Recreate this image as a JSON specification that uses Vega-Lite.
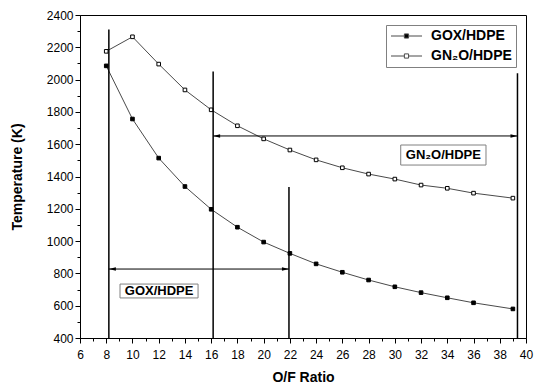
{
  "$schema": "https://vega.github.io/schema/vega-lite/v6.json",
  "width": 446,
  "height": 323,
  "autosize": {"type": "none"},
  "padding": {"left": 80, "top": 15, "right": 16, "bottom": 48},
  "background": "white",
  "config": {
    "font": "Liberation Sans",
    "view": {"stroke": "black", "strokeWidth": 1},
    "axis": {"grid": false, "domainColor": "black", "tickColor": "black", "labelColor": "black", "titleColor": "black", "labelFont": "Liberation Sans", "titleFont": "Liberation Sans", "labelFontSize": 12, "titleFontSize": 14, "titleFontWeight": "bold", "labelOverlap": false, "labelFlush": false}
  },
  "datasets": {
    "series": [
      {"of": 8, "temp": 2085, "series": "GOX/HDPE"},
      {"of": 10, "temp": 1756, "series": "GOX/HDPE"},
      {"of": 12, "temp": 1514, "series": "GOX/HDPE"},
      {"of": 14, "temp": 1338, "series": "GOX/HDPE"},
      {"of": 16, "temp": 1197, "series": "GOX/HDPE"},
      {"of": 18, "temp": 1086, "series": "GOX/HDPE"},
      {"of": 20, "temp": 994, "series": "GOX/HDPE"},
      {"of": 22, "temp": 924, "series": "GOX/HDPE"},
      {"of": 24, "temp": 859, "series": "GOX/HDPE"},
      {"of": 26, "temp": 807, "series": "GOX/HDPE"},
      {"of": 28, "temp": 759, "series": "GOX/HDPE"},
      {"of": 30, "temp": 717, "series": "GOX/HDPE"},
      {"of": 32, "temp": 681, "series": "GOX/HDPE"},
      {"of": 34, "temp": 649, "series": "GOX/HDPE"},
      {"of": 36, "temp": 618, "series": "GOX/HDPE"},
      {"of": 39, "temp": 580, "series": "GOX/HDPE"},
      {"of": 8, "temp": 2175, "series": "GN₂O/HDPE"},
      {"of": 10, "temp": 2265, "series": "GN₂O/HDPE"},
      {"of": 12, "temp": 2096, "series": "GN₂O/HDPE"},
      {"of": 14, "temp": 1936, "series": "GN₂O/HDPE"},
      {"of": 16, "temp": 1813, "series": "GN₂O/HDPE"},
      {"of": 18, "temp": 1714, "series": "GN₂O/HDPE"},
      {"of": 20, "temp": 1633, "series": "GN₂O/HDPE"},
      {"of": 22, "temp": 1564, "series": "GN₂O/HDPE"},
      {"of": 24, "temp": 1503, "series": "GN₂O/HDPE"},
      {"of": 26, "temp": 1454, "series": "GN₂O/HDPE"},
      {"of": 28, "temp": 1415, "series": "GN₂O/HDPE"},
      {"of": 30, "temp": 1384, "series": "GN₂O/HDPE"},
      {"of": 32, "temp": 1347, "series": "GN₂O/HDPE"},
      {"of": 34, "temp": 1327, "series": "GN₂O/HDPE"},
      {"of": 36, "temp": 1297, "series": "GN₂O/HDPE"},
      {"of": 39, "temp": 1266, "series": "GN₂O/HDPE"}
    ],
    "vlines": [
      {"x": 8.2, "y1": 400, "y2": 2310},
      {"x": 16.15, "y1": 400, "y2": 2050},
      {"x": 21.93, "y1": 400, "y2": 1335},
      {"x": 39.35, "y1": 400, "y2": 2040}
    ],
    "hlines": [
      {"x1": 8.2, "x2": 21.93, "y": 827},
      {"x1": 16.15, "x2": 39.35, "y": 1651}
    ],
    "heads": [
      {"x": 8.2, "y": 827, "dir": "left"},
      {"x": 21.93, "y": 827, "dir": "right"},
      {"x": 16.15, "y": 1651, "dir": "left"},
      {"x": 39.35, "y": 1651, "dir": "right"}
    ],
    "boxes": [
      {"x1": 9.05, "x2": 15.0, "y1": 648, "y2": 734, "xc": 12.03, "yc": 691, "label": "GOX/HDPE"},
      {"x1": 30.45, "x2": 36.95, "y1": 1471, "y2": 1595, "xc": 33.7, "yc": 1533, "label": "GN₂O/HDPE"}
    ]
  },
  "layer": [
    {
      "data": {"name": "series"},
      "mark": {"type": "line", "strokeWidth": 1},
      "encoding": {
        "x": {"field": "of", "type": "quantitative", "scale": {"domain": [6, 40], "nice": false, "zero": false},
          "axis": {"title": "O/F Ratio", "values": [6,7,8,9,10,11,12,13,14,15,16,17,18,19,20,21,22,23,24,25,26,27,28,29,30,31,32,33,34,35,36,37,38,39,40],
            "tickCount": 200, "format": "d",
            "labelExpr": "datum.value % 2 === 0 ? datum.label : ''",
            "labelOverlap": false, "labelFlush": false,
            "tickSize": {"condition": {"test": "datum.value % 2 === 0", "value": 5}, "value": 3},
            "labelPadding": 6, "titlePadding": 10}},
        "y": {"field": "temp", "type": "quantitative", "scale": {"domain": [400, 2400], "nice": false, "zero": false},
          "axis": {"title": "Temperature (K)", "values": [400,500,600,700,800,900,1000,1100,1200,1300,1400,1500,1600,1700,1800,1900,2000,2100,2200,2300,2400],
            "tickCount": 200, "format": "d",
            "labelExpr": "datum.value % 200 === 0 ? datum.label : ''",
            "labelOverlap": false, "labelFlush": false,
            "tickSize": {"condition": {"test": "datum.value % 200 === 0", "value": 5}, "value": 3},
            "labelPadding": 2, "titlePadding": 22}},
        "detail": {"field": "series"},
        "color": {"field": "series", "type": "nominal",
          "scale": {"domain": ["GOX/HDPE", "GN₂O/HDPE"], "range": ["#4a4a4a", "#4a4a4a"]},
          "legend": {"title": null, "orient": "top-right", "offset": 10, "padding": 4,
            "strokeColor": "#808080", "fillColor": "white",
            "labelFont": "Liberation Sans", "labelFontSize": 14, "labelFontWeight": "bold", "labelColor": "black",
            "symbolType": "M-1,0H1.23M1.93,0H4.17M1.23,-0.35H1.93V0.35H1.23Z",
            "symbolSize": 144, "symbolStrokeWidth": 1, "labelOffset": 27, "rowPadding": 6,
            "encode": {"symbols": {"update": {
              "fill": [{"test": "datum.value === 'GOX/HDPE'", "value": "black"}, {"value": "white"}],
              "stroke": {"value": "black"}}}}}}
      }
    },
    {
      "data": {"name": "series"},
      "mark": {"type": "point", "shape": "square", "size": 13, "strokeWidth": 1, "stroke": "black", "opacity": 1, "filled": false},
      "encoding": {
        "x": {"field": "of", "type": "quantitative"},
        "y": {"field": "temp", "type": "quantitative"},
        "fill": {"field": "series", "type": "nominal", "scale": {"domain": ["GOX/HDPE", "GN₂O/HDPE"], "range": ["black", "white"]}, "legend": null}
      }
    },
    {
      "data": {"name": "vlines"},
      "mark": {"type": "rule", "color": "black", "strokeWidth": 1.5},
      "encoding": {
        "x": {"field": "x", "type": "quantitative"},
        "y": {"field": "y1", "type": "quantitative"},
        "y2": {"field": "y2"}
      }
    },
    {
      "data": {"name": "hlines"},
      "mark": {"type": "rule", "color": "black", "strokeWidth": 1},
      "encoding": {
        "x": {"field": "x1", "type": "quantitative"},
        "x2": {"field": "x2"},
        "y": {"field": "y", "type": "quantitative"}
      }
    },
    {
      "data": {"name": "heads"},
      "mark": {"type": "point", "filled": true, "color": "black", "size": 49, "opacity": 1},
      "encoding": {
        "x": {"field": "x", "type": "quantitative"},
        "y": {"field": "y", "type": "quantitative"},
        "shape": {"field": "dir", "type": "nominal", "scale": {"domain": ["left", "right"], "range": ["M0,0L2,-0.5L2,0.5Z", "M0,0L-2,-0.5L-2,0.5Z"]}, "legend": null}
      }
    },
    {
      "data": {"name": "boxes"},
      "mark": {"type": "rect", "fill": "white", "stroke": "#808080", "strokeWidth": 1},
      "encoding": {
        "x": {"field": "x1", "type": "quantitative"},
        "x2": {"field": "x2"},
        "y": {"field": "y1", "type": "quantitative"},
        "y2": {"field": "y2"}
      }
    },
    {
      "data": {"name": "boxes"},
      "mark": {"type": "text", "font": "Liberation Sans", "fontSize": 13, "fontWeight": "bold", "color": "black", "align": "center", "baseline": "middle"},
      "encoding": {
        "x": {"field": "xc", "type": "quantitative"},
        "y": {"field": "yc", "type": "quantitative"},
        "text": {"field": "label"}
      }
    }
  ]
}
